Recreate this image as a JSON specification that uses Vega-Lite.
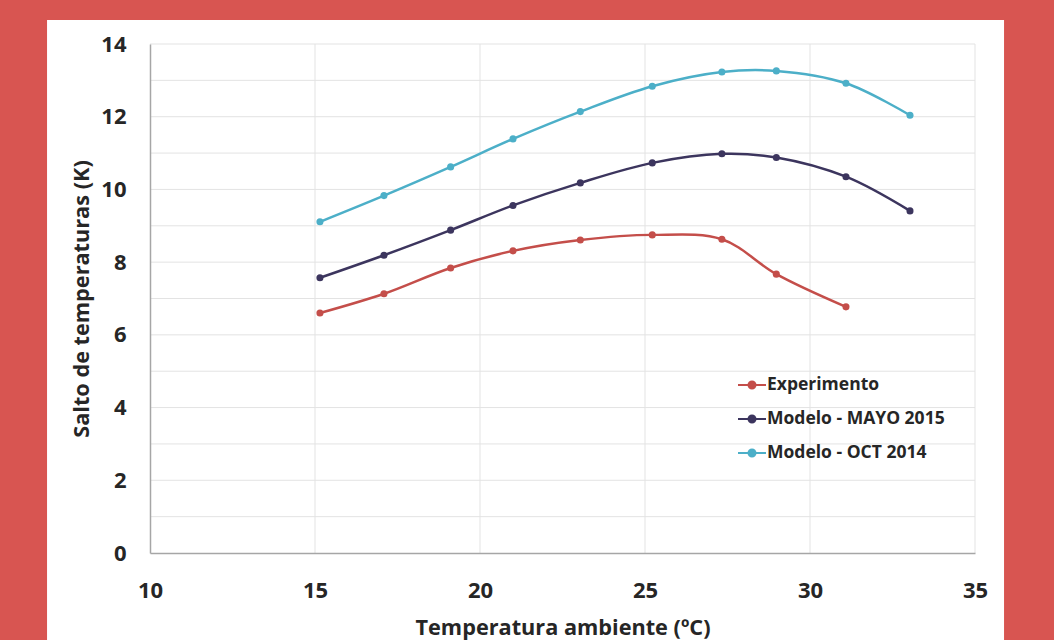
{
  "$schema": "https://vega.github.io/schema/vega-lite/v6.json",
  "width": 825,
  "height": 509,
  "autosize": {"type": "none"},
  "padding": {"left": 150, "top": 44, "right": 79, "bottom": 87},
  "background": "#d85551",
  "config": {
    "font": "Open Sans",
    "view": {"stroke": null},
    "axis": {
      "labelFont": "Open Sans", "labelFontWeight": "bold", "labelFontSize": 22, "labelColor": "#262626",
      "titleFont": "Open Sans", "titleFontWeight": "bold", "titleFontSize": 21.7, "titleColor": "#262626",
      "grid": false, "domainColor": "#a6a6a6", "domainWidth": 1.5, "ticks": false, "labelFlush": false
    }
  },
  "datasets": {
    "series": [
      {"t": 15.15, "v": 6.60, "s": "Experimento"},
      {"t": 17.09, "v": 7.13, "s": "Experimento"},
      {"t": 19.11, "v": 7.84, "s": "Experimento"},
      {"t": 21.00, "v": 8.31, "s": "Experimento"},
      {"t": 23.04, "v": 8.61, "s": "Experimento"},
      {"t": 25.22, "v": 8.75, "s": "Experimento"},
      {"t": 27.33, "v": 8.63, "s": "Experimento"},
      {"t": 28.98, "v": 7.67, "s": "Experimento"},
      {"t": 31.09, "v": 6.77, "s": "Experimento"},
      {"t": 15.15, "v": 7.57, "s": "Modelo - MAYO 2015"},
      {"t": 17.09, "v": 8.19, "s": "Modelo - MAYO 2015"},
      {"t": 19.11, "v": 8.88, "s": "Modelo - MAYO 2015"},
      {"t": 21.00, "v": 9.56, "s": "Modelo - MAYO 2015"},
      {"t": 23.04, "v": 10.18, "s": "Modelo - MAYO 2015"},
      {"t": 25.22, "v": 10.73, "s": "Modelo - MAYO 2015"},
      {"t": 27.33, "v": 10.98, "s": "Modelo - MAYO 2015"},
      {"t": 28.98, "v": 10.88, "s": "Modelo - MAYO 2015"},
      {"t": 31.09, "v": 10.35, "s": "Modelo - MAYO 2015"},
      {"t": 33.03, "v": 9.41, "s": "Modelo - MAYO 2015"},
      {"t": 15.15, "v": 9.11, "s": "Modelo - OCT 2014"},
      {"t": 17.09, "v": 9.83, "s": "Modelo - OCT 2014"},
      {"t": 19.11, "v": 10.62, "s": "Modelo - OCT 2014"},
      {"t": 21.00, "v": 11.39, "s": "Modelo - OCT 2014"},
      {"t": 23.04, "v": 12.14, "s": "Modelo - OCT 2014"},
      {"t": 25.22, "v": 12.84, "s": "Modelo - OCT 2014"},
      {"t": 27.33, "v": 13.23, "s": "Modelo - OCT 2014"},
      {"t": 28.98, "v": 13.26, "s": "Modelo - OCT 2014"},
      {"t": 31.09, "v": 12.92, "s": "Modelo - OCT 2014"},
      {"t": 33.03, "v": 12.04, "s": "Modelo - OCT 2014"}
    ],
    "panel": [{"x0": 6.88, "x1": 35.88, "y0": -2.4, "y1": 14.66}],
    "ygrid": [{"g": 1}, {"g": 2}, {"g": 3}, {"g": 4}, {"g": 5}, {"g": 6}, {"g": 7}, {"g": 8}, {"g": 9}, {"g": 10}, {"g": 11}, {"g": 12}, {"g": 13}, {"g": 14}],
    "xgrid": [{"g": 15}, {"g": 20}, {"g": 25}, {"g": 30}, {"g": 35}]
  },
  "layer": [
    {
      "data": {"name": "panel"},
      "mark": {"type": "rect", "fill": "#ffffff", "clip": false},
      "encoding": {
        "x": {"field": "x0", "type": "quantitative", "scale": {"domain": [10, 35], "nice": false, "zero": false},
          "axis": {"values": [10, 15, 20, 25, 30, 35], "title": "Temperatura ambiente (ºC)", "labelPadding": 27, "titlePadding": 16, "zindex": 2}},
        "x2": {"field": "x1"},
        "y": {"field": "y0", "type": "quantitative", "scale": {"domain": [0, 14], "nice": false},
          "axis": {"values": [0, 2, 4, 6, 8, 10, 12, 14], "title": "Salto de temperaturas (K)", "labelPadding": 24, "titlePadding": 7, "zindex": 2}},
        "y2": {"field": "y1"}
      }
    },
    {
      "data": {"name": "ygrid"},
      "mark": {"type": "rule", "color": "#e3e3e3", "strokeWidth": 1},
      "encoding": {"y": {"field": "g", "type": "quantitative"}}
    },
    {
      "data": {"name": "xgrid"},
      "mark": {"type": "rule", "color": "#e3e3e3", "strokeWidth": 1},
      "encoding": {"x": {"field": "g", "type": "quantitative"}}
    },
    {
      "data": {"name": "series"},
      "mark": {"type": "line", "interpolate": "catmull-rom", "strokeWidth": 2.5, "point": {"filled": true, "size": 50}},
      "encoding": {
        "x": {"field": "t", "type": "quantitative"},
        "y": {"field": "v", "type": "quantitative"},
        "color": {
          "field": "s", "type": "nominal",
          "scale": {"domain": ["Experimento", "Modelo - MAYO 2015", "Modelo - OCT 2014"], "range": ["#c44e4a", "#3c355e", "#4cafc8"]},
          "legend": {
            "title": null, "orient": "none", "legendX": 587, "legendY": 326,
            "symbolType": "M-1,0H1M-0.25,0A0.25,0.25,0,1,0,0.25,0A0.25,0.25,0,1,0,-0.25,0Z",
            "symbolSize": 784, "symbolStrokeWidth": 2, "rowPadding": 10, "labelOffset": 0,
            "labelFont": "Open Sans", "labelFontWeight": "bold", "labelFontSize": 17.5, "labelColor": "#262626", "labelLimit": 300,
            "encode": {"symbols": {"update": {"fill": {"scale": "color", "field": "value"}, "fillOpacity": {"value": 1}}}}
          }
        }
      }
    }
  ]
}
